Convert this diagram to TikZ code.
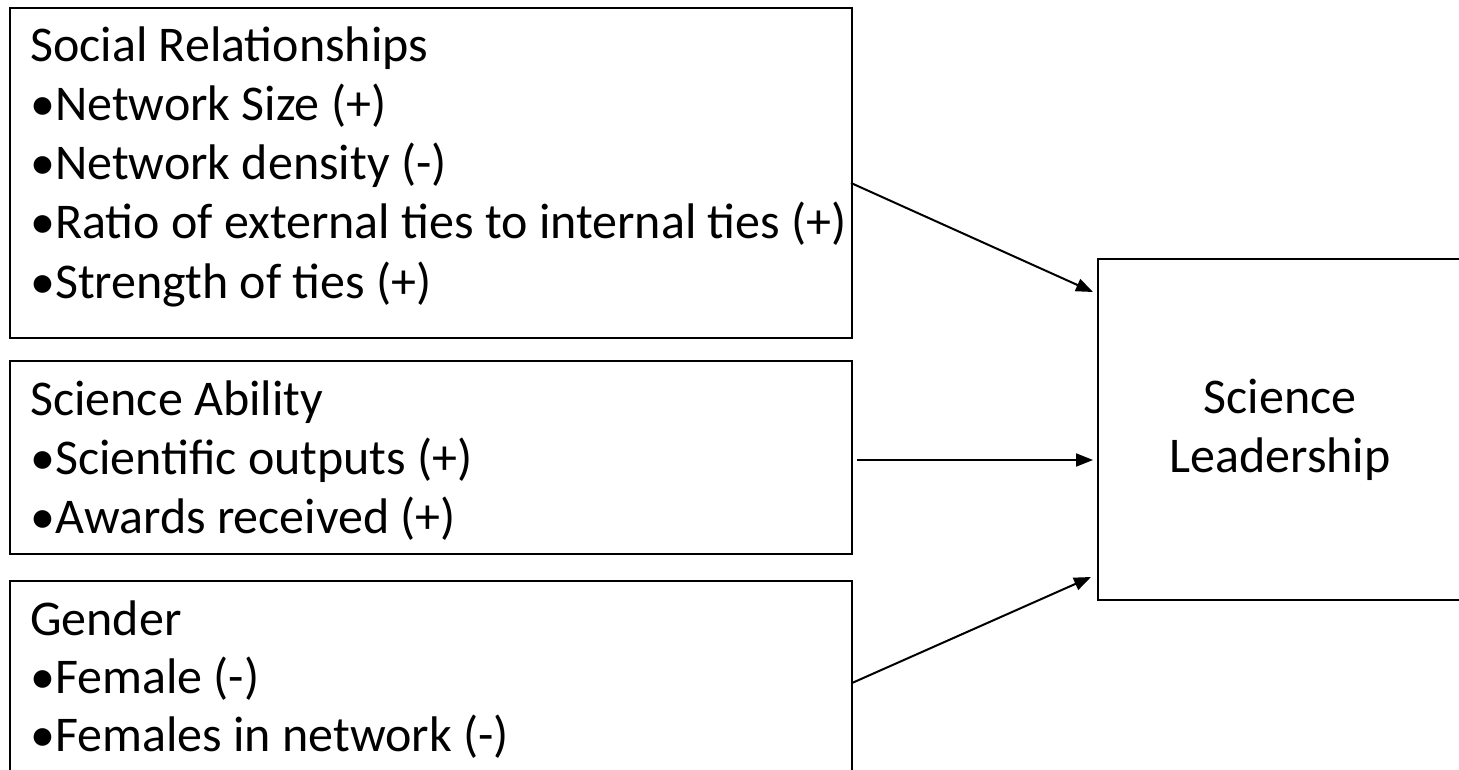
\documentclass[tikz,border=0pt]{standalone}
\usepackage{fontspec}
\setmainfont{Carlito}
\usetikzlibrary{arrows.meta,calc}
\begin{document}
\begin{tikzpicture}[x=1pt,y=-1pt,
  box/.style={draw=black, line width=2.5pt, inner sep=0pt, outer sep=0pt, anchor=north west},
  txt/.style={anchor=base west, inner sep=0pt, font=\fontsize{50}{59}\selectfont},
  ctxt/.style={anchor=base, inner sep=0pt, font=\fontsize{50}{59}\selectfont},
  arr/.style={line width=2pt, -{Triangle[length=17pt,width=13pt]}}]
\useasboundingbox (0,0) rectangle (1459,770);
\clip (0,0) rectangle (1459,770);
% boxes
\node[box, minimum width=842pt, minimum height=330pt] (b1) at (10,8) {};
\node[box, minimum width=842pt, minimum height=193pt] (b2) at (10,361) {};
\node[box, minimum width=842pt, minimum height=200pt] (b3) at (10,581) {};
\node[box, minimum width=370pt, minimum height=341pt] (lead) at (1098,259) {};
% box 1 text
\node[txt] (t11) at (30,62) {Social Relationships};
\node[txt] (t12) at (30,121) {•Network Size (+)};
\node[txt] (t13) at (30,180) {•Network density (-)};
\node[txt] (t14) at (30,239) {•Ratio of external ties to internal ties (+)};
\node[txt] (t15) at (30,298) {•Strength of ties (+)};
% box 2 text
\node[txt] (t21) at (30,415) {Science Ability};
\node[txt] (t22) at (30,474) {•Scientific outputs (+)};
\node[txt] (t23) at (30,533) {•Awards received (+)};
% box 3 text
\node[txt] (t31) at (30,635) {Gender};
\node[txt] (t32) at (30,693) {•Female (-)};
\node[txt] (t33) at (30,751) {•Females in network (-)};
% right box text
\node[ctxt] (l1) at (1280,413) {Science};
\node[ctxt] (l2) at (1280,472) {Leadership};
% arrows
\coordinate (a1s) at (851,183);
\coordinate (a1e) at (1093,292);
\coordinate (a2s) at (857,460);
\coordinate (a2e) at (1093,460);
\coordinate (a3s) at (852,683);
\coordinate (a3e) at (1091,577);
\draw[arr] (a1s) -- (a1e);
\draw[arr] (a2s) -- (a2e);
\draw[arr] (a3s) -- (a3e);
\end{tikzpicture}
\end{document}
